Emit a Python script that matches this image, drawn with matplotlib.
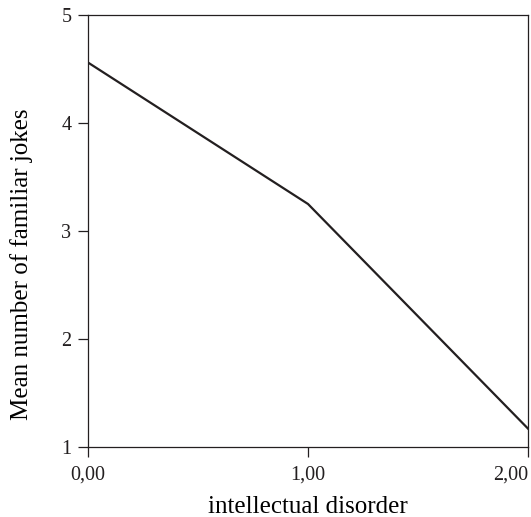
import matplotlib.pyplot as plt

# intellectual disorder level vs mean familiar jokes
disorder = [0.0, 1.0, 2.0]
mean_jokes = [4.56, 3.25, 1.17]
x_ticks = [0.0, 1.0, 2.0]
x_labels = ['0,00', '1,00', '2,00']
y_ticks = [1, 2, 3, 4, 5]

plt.rcParams['font.family'] = 'Liberation Serif'

fig = plt.figure(figsize=(5.31, 5.17), dpi=100)
ax = fig.add_axes([0.1657, 0.1354, 0.8287, 0.8356])

ax.plot(disorder, mean_jokes, color='#231f20', linewidth=1.6)

ax.set_xlim(0, 2)
ax.set_ylim(1, 5)
ax.set_xticks(x_ticks)
labels = ax.set_xticklabels(x_labels, fontsize=14.5)
labels[-1].set_horizontalalignment('right')
ax.set_yticks(y_ticks)
ax.set_yticklabels([str(v) for v in y_ticks], fontsize=14.5)
ax.tick_params(direction='out', length=7, width=0.9, colors='#231f20')
ax.tick_params(axis='x', pad=6)
ax.tick_params(axis='y', pad=5)

for s in ax.spines.values():
    s.set_linewidth(0.9)
    s.set_color('#231f20')

ax.set_xlabel('intellectual disorder', fontsize=18)
ax.set_ylabel('Mean number of familiar jokes', fontsize=18)
ax.xaxis.set_label_coords(0.5, -0.138)
ax.yaxis.set_label_coords(-0.152, 0.424)
ax.xaxis.label.set_verticalalignment('center')
ax.yaxis.label.set_verticalalignment('center')

fig.savefig('out.png', dpi=100)
